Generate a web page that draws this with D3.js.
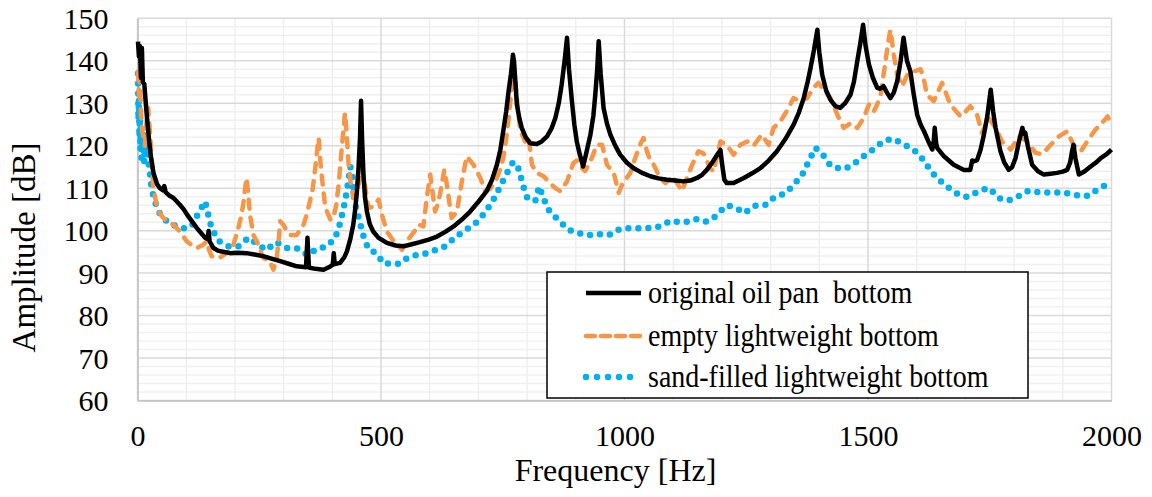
<!DOCTYPE html>
<html>
<head>
<meta charset="utf-8">
<script src="https://cdn.jsdelivr.net/npm/d3@7"></script>
<style>
  html, body { margin: 0; padding: 0; background: #fff; }
  svg text { font-family: "Liberation Serif", "Times New Roman", serif; fill: #000; }
</style>
</head>
<body>
<svg id="chart" width="1152" height="497"></svg>
<script>
// ---- data (frequency [Hz], amplitude [dB]) ----
const seriesNames = ["original oil pan  bottom", "empty lightweight bottom", "sand-filled lightweight bottom"];
const xTicks = [0, 500, 1000, 1500, 2000];
const yTicks = [60, 70, 80, 90, 100, 110, 120, 130, 140, 150];

const originalBottom = [[1,144.5],[3,141],[5,143.5],[7,136],[9,143],[11,135],[14,134.5],[17,130],[20,126],[24,121],[28,117],[33,113.5],[40,111],[46,110],[52,109.5],[55,110.5],[58,109],[66,108.2],[74,107.7],[87,106.1],[95,105],[104,103.4],[113,102],[122,100.6],[130,99.5],[139,98.3],[144,98],[146,99.9],[148,97.5],[156,95.9],[165,95.3],[173,95.1],[190,94.7],[205,94.8],[224,94.7],[240,94.4],[258,94],[275,93.4],[293,92.8],[310,92.2],[327,91.6],[346,91.4],[349,98.3],[352,91.3],[365,91],[382,90.8],[395,91.5],[401,92],[403,94.7],[405,92.1],[416,92.4],[425,93.8],[430,95.1],[437,98],[443,101.4],[447,105],[450,108.5],[454,115],[457,122],[459,130.6],[461,122],[464,113.2],[467,108],[471,104.5],[477,101.5],[484,99.8],[495,98.3],[512,97.1],[530,96.5],[546,96.3],[563,96.8],[580,97.3],[598,97.9],[615,98.6],[632,99.7],[649,101],[666,102.6],[683,104.5],[700,106.8],[717,109.3],[728,112],[738,115.5],[745,119],[751,123.4],[757,128],[762,132.8],[767,137],[771,141.4],[773,140],[776,135],[779,129.7],[784,126.5],[789,124.2],[797,122],[806,120.6],[820,120.4],[830,121],[841,122.2],[850,124],[858,126.5],[865,130],[871,134.4],[877,140],[882,145.4],[886,138],[892,130.5],[897,125],[902,121],[908,118],[915,115.1],[922,118.5],[930,122.6],[936,127],[940,132],[944,138],[947,144.6],[951,137],[957,128.9],[964,125.2],[971,122.6],[981,120],[991,117.9],[1005,116],[1019,114.7],[1036,113.6],[1053,112.8],[1070,112.3],[1087,112],[1104,111.8],[1121,111.6],[1135,111.8],[1149,112.4],[1160,113.2],[1169,114.3],[1180,116],[1190,117.8],[1197,119],[1200,116],[1205,112],[1210,111.2],[1224,111.2],[1245,112.4],[1262,113.5],[1279,114.7],[1296,116.5],[1313,118.7],[1330,121.5],[1347,124.9],[1358,127.8],[1368,131.2],[1376,135],[1382,138.3],[1389,142.5],[1396,147.3],[1400,142],[1406,136.7],[1414,133],[1423,130.8],[1433,129.3],[1443,128.9],[1453,130],[1464,132],[1471,135],[1478,139.9],[1484,144],[1490,148.5],[1495,143.5],[1502,139.1],[1510,136],[1519,133.6],[1525,133.4],[1532,134],[1539,132.5],[1546,131.2],[1553,132.5],[1560,135.2],[1567,140],[1573,145.4],[1580,140],[1587,137.5],[1594,132],[1601,127.3],[1608,125],[1615,123.4],[1624,121],[1632,119.1],[1635,121],[1637,124.2],[1640,120.5],[1642,119.5],[1656,117.5],[1676,115.5],[1697,114.3],[1710,114.3],[1714,116.5],[1717,116.3],[1724,116.6],[1731,119],[1738,122.6],[1745,127],[1752,133.2],[1757,128],[1762,124.2],[1772,118.7],[1780,116],[1789,114.3],[1796,115],[1803,117.1],[1810,121],[1817,124.2],[1820,122.8],[1823,123],[1828,120],[1837,115.5],[1849,114],[1861,113.2],[1875,113.4],[1888,113.6],[1900,113.9],[1909,114.3],[1915,116],[1919,118.7],[1922,120.2],[1926,117],[1933,113.2],[1945,114],[1957,115.1],[1968,116],[1978,117.1],[1990,118],[2000,119.1]];

const emptyLightweight = [[1,137.5],[3,132],[5,136],[7,128],[9,124],[12,122],[15,120],[18,125],[22,128.9],[25,124],[29,117.1],[32,110.8],[36,108],[39,106.1],[46,104],[53,103],[63,102],[74,101.4],[87,99.8],[101,97.5],[112,96.5],[122,95.9],[135,96.7],[142,97.5],[147,95.5],[152,94],[160,93.8],[169,93.6],[183,94.7],[190,95.5],[197,96.7],[207,100.6],[212,103],[217,106.1],[221,110],[224,112.4],[228,108],[231,103.7],[238,99],[248,96.7],[258,93.6],[265,93.2],[272,92.8],[279,90.8],[286,93.6],[290,98],[293,102.2],[300,101.3],[306,100],[313,99],[327,99],[341,101.4],[348,104],[354,106.9],[360,110],[365,114.7],[369,119],[372,121.8],[375,117],[378,113.2],[385,106.1],[389,104.5],[396,102.6],[402,102.8],[408,106],[413,110.8],[420,120.2],[426,127.7],[430,122],[433,116.3],[438,111],[443,107.7],[449,109],[454,110.8],[461,114.7],[467,110.8],[474,105.3],[484,105.7],[495,107.3],[502,103.7],[512,99.8],[526,97.5],[535,96.5],[543,95.5],[553,97.5],[563,99],[570,100],[577,101.4],[587,101],[594,107.7],[601,113.2],[606,109],[611,104.5],[616,106],[621,108.5],[630,114.3],[635,111],[639,107.7],[645,103],[656,104.5],[666,111.6],[676,117.5],[683,116.5],[690,115.5],[704,112.4],[714,109.3],[724,109.8],[738,112.4],[745,114.5],[751,117.1],[757,121.5],[762,126.5],[767,132],[771,138.3],[774,137],[779,131.2],[786,123.4],[796,121],[803,122.2],[810,115.5],[820,113.6],[834,112.8],[847,111.2],[858,110],[868,109.3],[882,111.6],[895,115.9],[902,116.5],[909,115.2],[919,114],[926,115.5],[933,117.1],[943,120.2],[954,120.2],[964,115.5],[978,113.6],[988,108.9],[998,111.6],[1005,112.5],[1012,113.6],[1022,117.1],[1032,120.2],[1039,121.8],[1046,118.7],[1053,116.5],[1060,115.5],[1073,112.4],[1084,111.2],[1098,112.8],[1108,111.2],[1118,109.3],[1128,112.4],[1139,115.5],[1145,117],[1152,118.7],[1162,118.2],[1169,116.5],[1176,114.7],[1183,113.9],[1190,117.5],[1197,121],[1210,120.2],[1224,117.9],[1238,120.2],[1252,121],[1265,120],[1282,122.6],[1296,120.2],[1306,124.2],[1320,125.7],[1333,128.1],[1347,131.2],[1361,130.5],[1375,131.2],[1388,133.6],[1398,134.8],[1409,133.2],[1423,131.2],[1437,127.3],[1450,124.2],[1464,125.3],[1478,124.2],[1491,126.5],[1502,129.7],[1512,128.1],[1520,130],[1526,132],[1531,136],[1536,139.9],[1541,144],[1546,147.3],[1553,141.4],[1560,136.7],[1570,134],[1581,136.7],[1594,137.5],[1608,138],[1614,136],[1621,132],[1635,130.5],[1643,132.5],[1652,134.8],[1669,129.7],[1690,126.9],[1700,128],[1710,129.3],[1724,127.3],[1734,123],[1748,126.5],[1762,124.2],[1775,121],[1793,119.1],[1810,122.2],[1827,121],[1844,118.3],[1858,118],[1875,120.2],[1892,122.2],[1909,123.4],[1922,120.2],[1937,118.7],[1950,121],[1967,123.8],[1978,125],[1992,126.9],[2000,125]];

const sandFilled = [[1,137],[2,126],[3,131],[4,122],[5,129],[6,119],[7,124],[8,117],[9,122],[10,120],[12,123],[14,116],[16,121],[18,118],[20,122],[22,117],[24,114.7],[26,113.2],[29,109.6],[32,108.5],[39,105.7],[46,104],[53,103],[62,102],[70,101.6],[87,100.6],[100,100.5],[111,101],[125,104.1],[139,106.9],[145,103.9],[152,100.6],[166,97.6],[187,96.3],[207,96.3],[228,98.3],[248,96.7],[264,95.4],[285,97.3],[306,95.9],[329,95.8],[350,94.2],[368,95.7],[389,96.3],[406,98.3],[415,101.4],[422,104.7],[428,108.1],[433,111.6],[437,115.1],[442,112.2],[443,108.9],[449,105.3],[456,102.2],[464,98.7],[474,95.7],[491,94.6],[506,92.2],[520,92.3],[538,92.2],[552,93.4],[570,94.2],[589,94.5],[611,95.4],[632,96.3],[651,98.3],[673,100.1],[693,101.6],[712,104],[729,106.9],[743,110],[756,113],[770,115.9],[777,116],[784,114.1],[791,110.8],[801,107.5],[817,107.1],[825,110.4],[834,107.5],[846,104.5],[867,102.2],[885,100.2],[906,99.4],[926,98.9],[947,99.2],[969,99],[987,100.2],[1004,100.6],[1022,100.5],[1039,100.6],[1060,100.7],[1076,101.1],[1094,102.3],[1115,102],[1132,102.1],[1148,102.7],[1165,102.1],[1180,102.6],[1195,104.4],[1212,106],[1231,105.2],[1247,104.1],[1262,105.6],[1277,106.1],[1291,106.1],[1306,107.7],[1321,108.3],[1336,109.4],[1352,111.4],[1367,113.6],[1378,116.3],[1392,119.5],[1409,117.6],[1424,115.1],[1440,114.7],[1454,114.6],[1464,115.3],[1478,116.3],[1491,117.5],[1506,118.7],[1521,120.1],[1536,121.3],[1553,121.6],[1571,120.4],[1587,119.5],[1604,118.1],[1618,115.9],[1632,113.6],[1642,112.4],[1656,111],[1672,109.5],[1686,108.5],[1704,107.9],[1717,108.7],[1731,109.3],[1746,110.1],[1755,109.3],[1768,107.7],[1786,107.1],[1799,107.4],[1815,108.5],[1830,109.4],[1846,109.1],[1861,109],[1883,109],[1902,109],[1919,108.5],[1937,108.2],[1950,108.2],[1960,108.6],[1972,109.9],[1987,110.6]];

// ---- layout ----
const svg = d3.select("#chart");
const L = 137.5, R = 1111.5, T = 18.3, B = 400.5;
const x = d3.scaleLinear().domain([0, 2000]).range([L, R]);
const y = d3.scaleLinear().domain([60, 150]).range([B, T]);

// gridlines
const g = svg.append("g");
g.selectAll("line.hmin").data(d3.range(60, 151, 2).filter(v => v % 10 !== 0)).join("line")
  .attr("x1", L).attr("x2", R).attr("y1", d => y(d)).attr("y2", d => y(d))
  .attr("stroke", "#f0f0f0").attr("stroke-width", 1.5);
g.selectAll("line.vmin").data(d3.range(0, 2001, 100).filter(v => v % 500 !== 0)).join("line")
  .attr("y1", T).attr("y2", B).attr("x1", d => x(d)).attr("x2", d => x(d))
  .attr("stroke", "#f0f0f0").attr("stroke-width", 1.5);
g.selectAll("line.hmaj").data(yTicks).join("line")
  .attr("x1", L).attr("x2", R).attr("y1", d => y(d)).attr("y2", d => y(d))
  .attr("stroke", "#d9d9d9").attr("stroke-width", 1.5);
g.selectAll("line.vmaj").data(xTicks).join("line")
  .attr("y1", T).attr("y2", B).attr("x1", d => x(d)).attr("x2", d => x(d))
  .attr("stroke", "#d9d9d9").attr("stroke-width", 1.5);

// axes (labels only, no tick marks)
const xAxis = d3.axisBottom(x).tickValues(xTicks).tickFormat(d3.format("d")).tickSize(0).tickPadding(0);
const gx = svg.append("g").attr("transform", `translate(0,${B})`).call(xAxis);
gx.select(".domain").attr("stroke", "#bfbfbf").attr("stroke-width", 1.5);
gx.selectAll("text").attr("font-size", 30).attr("font-family", "Liberation Serif")
  .attr("y", 45.5).attr("dy", null);

const yAxis = d3.axisLeft(y).tickValues(yTicks).tickFormat(d3.format("d")).tickSize(0).tickPadding(0);
const gy = svg.append("g").attr("transform", `translate(${L},0)`).call(yAxis);
gy.select(".domain").attr("stroke", "#bfbfbf").attr("stroke-width", 1.5);
gy.selectAll("text").attr("font-size", 30).attr("font-family", "Liberation Serif")
  .attr("x", -29).attr("dy", "0.34em");

// axis titles
svg.append("text").attr("x", 615.5).attr("y", 481).attr("text-anchor", "middle")
  .attr("font-size", 32).text("Frequency [Hz]");
svg.append("text").attr("transform", "translate(35,247.5) rotate(-90)").attr("text-anchor", "middle")
  .attr("font-size", 33).text("Amplitude [dB]");

// series
const line = d3.line().x(d => x(d[0])).y(d => y(d[1]));
const plot = svg.append("g");
plot.append("path").datum(sandFilled).attr("d", line).attr("fill", "none")
  .attr("stroke", "#00b0f0").attr("stroke-width", 6.5).attr("stroke-linecap", "round")
  .attr("stroke-dasharray", "0,10");
plot.append("path").datum(emptyLightweight).attr("d", line).attr("fill", "none")
  .attr("stroke", "#f79646").attr("stroke-width", 4.5).attr("stroke-linecap", "round")
  .attr("stroke-linejoin", "round").attr("stroke-dasharray", "9,9");
plot.append("path").datum(originalBottom).attr("d", line).attr("fill", "none")
  .attr("stroke", "#000").attr("stroke-width", 4.5).attr("stroke-linejoin", "round");

// legend
const leg = svg.append("g");
leg.append("rect").attr("x", 547).attr("y", 272).attr("width", 481).attr("height", 126)
  .attr("fill", "#fff").attr("stroke", "#000").attr("stroke-width", 1.5);
const rowsY = [293, 336, 377];
const styles = [
  {stroke: "#000", w: 4.5, dash: null, cap: "butt"},
  {stroke: "#f79646", w: 4.5, dash: "9,6", cap: "round"},
  {stroke: "#00b0f0", w: 6.5, dash: "0,11", cap: "round"}
];
seriesNames.forEach((name, i) => {
  const s = styles[i];
  const ln = leg.append("line").attr("x1", 586).attr("x2", 641).attr("y1", rowsY[i]).attr("y2", rowsY[i])
    .attr("stroke", s.stroke).attr("stroke-width", s.w).attr("stroke-linecap", s.cap);
  if (s.dash) ln.attr("stroke-dasharray", s.dash);
  leg.append("text")
    .attr("transform", `translate(648,${rowsY[i] + 10}) scale(1,1.15)`)
    .attr("font-size", 28)
    .attr("xml:space", "preserve").style("white-space", "pre").text(name);
});
</script>
</body>
</html>
